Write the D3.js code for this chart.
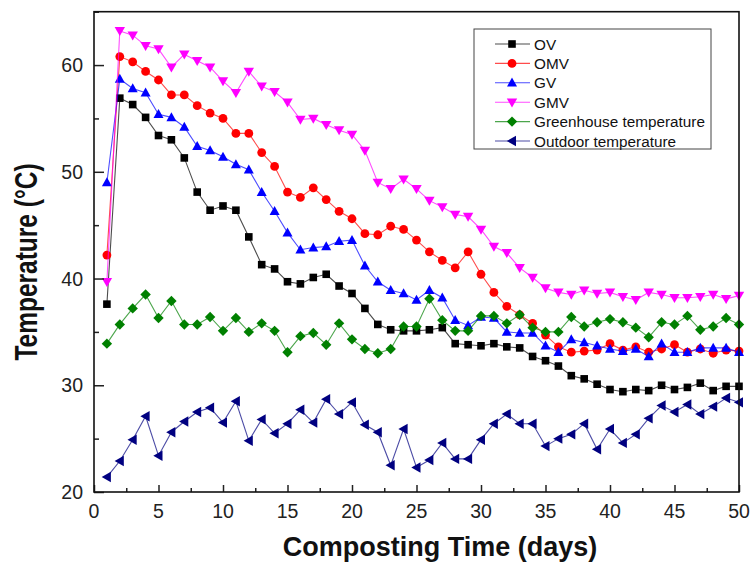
<!DOCTYPE html>
<html>
<head>
<meta charset="utf-8">
<script src="https://cdn.jsdelivr.net/npm/d3@7"></script>
<style>
  body { margin: 0; background: #fff; }
  svg { display: block; font-family: "Liberation Sans", Arial, sans-serif; }
</style>
</head>
<body>
<div id="chart"></div>
<script>
// Composting temperature over 50 days

const days = d3.range(1, 51);

const ov = [37.6, 56.9, 56.3, 55.1, 53.4, 53.0, 51.3, 48.1, 46.4, 46.8,
  46.4, 43.9, 41.3, 40.9, 39.7, 39.5, 40.1, 40.4, 39.3, 38.6,
  37.2, 35.7, 35.2, 35.1, 35.1, 35.2, 35.4, 33.9, 33.8, 33.7,
  33.9, 33.6, 33.5, 32.7, 32.3, 31.8, 30.9, 30.6, 30.1, 29.6,
  29.4, 29.6, 29.5, 30.0, 29.6, 29.8, 30.2, 29.5, 29.9, 29.9];

const omv = [42.2, 60.8, 60.3, 59.4, 58.6, 57.2, 57.2, 56.2, 55.5, 55.0,
  53.6, 53.6, 51.8, 50.5, 48.1, 47.6, 48.5, 47.4, 46.3, 45.6,
  44.2, 44.1, 44.9, 44.6, 43.6, 42.5, 41.7, 41.0, 42.5, 40.4,
  38.7, 37.4, 36.6, 35.8, 34.7, 33.6, 33.1, 33.2, 33.3, 33.9,
  33.3, 33.6, 33.1, 33.4, 33.8, 33.1, 33.4, 33.0, 33.3, 33.2];

const gv = [49.0, 58.7, 57.8, 57.4, 55.4, 55.1, 54.2, 52.4, 52.0, 51.4,
  50.7, 50.2, 48.1, 46.3, 44.3, 42.7, 42.9, 43.0, 43.5, 43.6,
  41.2, 39.7, 38.9, 38.6, 38.0, 38.9, 38.2, 36.1, 35.6, 36.4,
  36.3, 35.0, 34.9, 34.9, 33.7, 33.1, 34.3, 34.0, 33.7, 33.4,
  33.2, 33.4, 32.7, 33.9, 33.1, 33.1, 33.5, 33.5, 33.5, 33.1];

const gmv = [39.7, 63.2, 62.8, 61.8, 61.5, 59.8, 61.0, 60.4, 59.8, 58.5,
  57.4, 59.4, 58.0, 57.5, 56.5, 54.9, 55.0, 54.4, 53.9, 53.5,
  52.0, 49.0, 48.4, 49.3, 48.4, 47.3, 46.7, 46.0, 45.8, 44.6,
  43.0, 42.4, 41.0, 40.1, 39.1, 38.7, 38.5, 38.9, 38.6, 38.7,
  38.3, 38.0, 38.7, 38.5, 38.2, 38.2, 38.3, 38.5, 38.1, 38.4];

const greenhouse = [33.9, 35.7, 37.2, 38.5, 36.3, 37.9, 35.7, 35.7, 36.4, 35.1,
  36.3, 35.0, 35.8, 35.1, 33.1, 34.6, 34.9, 33.8, 35.8, 34.3,
  33.4, 33.0, 33.4, 35.5, 35.5, 38.1, 36.1, 35.1, 35.1, 36.5,
  36.5, 35.8, 36.6, 35.4, 35.0, 35.0, 36.4, 35.5, 35.9, 36.2,
  35.9, 35.4, 34.5, 35.9, 35.7, 36.5, 35.2, 35.5, 36.3, 35.7];

const outdoor = [21.4, 22.9, 24.9, 27.1, 23.4, 25.6, 26.6, 27.5, 27.9, 26.5,
  28.5, 24.8, 26.8, 25.5, 26.4, 27.7, 26.5, 28.7, 27.3, 28.4,
  26.3, 25.6, 22.5, 25.9, 22.3, 23.0, 24.6, 23.1, 23.1, 24.9,
  26.4, 27.3, 26.4, 26.4, 24.3, 25.0, 25.4, 26.4, 24.0, 25.9,
  24.6, 25.4, 26.9, 28.1, 27.5, 28.2, 27.3, 28.0, 28.8, 28.4];

const seriesNames = ["OV", "OMV", "GV", "GMV", "Greenhouse temperature", "Outdoor temperature"];
const seriesValues = [ov, omv, gv, gmv, greenhouse, outdoor];
const seriesColors = ["#000000", "#ff0000", "#0000ff", "#ff00ff", "#008000", "#000080"];
const seriesShapes = ["square", "circle", "up", "down", "diamond", "left"];

const xTicks = [0, 5, 10, 15, 20, 25, 30, 35, 40, 45, 50];
const yTicks = [20, 30, 40, 50, 60];

const width = 751, height = 563;
const plot = { left: 94, right: 739, top: 11.7, bottom: 492 };

const svg = d3.select("#chart").append("svg")
  .attr("width", width)
  .attr("height", height);

const x = d3.scaleLinear().domain([0, 50]).range([plot.left, plot.right]);
const y = d3.scaleLinear().domain([20, 65]).range([plot.bottom, plot.top]);

// marker path for each shape, centered at 0,0
function markerPath(shape) {
  const p = d3.path();
  if (shape === "square") {
    p.rect(-3.8, -3.8, 7.6, 7.6);
  } else if (shape === "circle") {
    p.arc(0, 0, 4.4, 0, 2 * Math.PI);
  } else if (shape === "up") {
    p.moveTo(0, -5.2); p.lineTo(5, 3.8); p.lineTo(-5, 3.8); p.closePath();
  } else if (shape === "down") {
    p.moveTo(0, 5.2); p.lineTo(5.2, -3.8); p.lineTo(-5.2, -3.8); p.closePath();
  } else if (shape === "diamond") {
    p.moveTo(0, -5.2); p.lineTo(5.2, 0); p.lineTo(0, 5.2); p.lineTo(-5.2, 0); p.closePath();
  } else if (shape === "left") {
    p.moveTo(-5.2, 0); p.lineTo(4, -5.2); p.lineTo(4, 5.2); p.closePath();
  }
  return p.toString();
}

// series
const line = d3.line().x((d, i) => x(days[i])).y(d => y(d));

seriesValues.forEach((vals, s) => {
  const g = svg.append("g");
  g.append("path")
    .attr("d", line(vals))
    .attr("fill", "none")
    .attr("stroke", seriesColors[s])
    .attr("stroke-opacity", 0.7)
    .attr("stroke-width", 1.1);
  g.selectAll("path.m")
    .data(vals)
    .join("path")
    .attr("class", "m")
    .attr("d", markerPath(seriesShapes[s]))
    .attr("transform", (d, i) => `translate(${x(days[i])},${y(d)})`)
    .attr("fill", seriesColors[s]);
});

// axes (ticks inward)
const xAxis = svg.append("g")
  .attr("transform", `translate(0,${plot.bottom})`)
  .call(d3.axisBottom(x).tickValues(d3.range(0, 50.1, 2.5)).tickSize(-4).tickFormat(""));
xAxis.selectAll(".tick line")
  .attr("y2", d => (d % 5 === 0 ? -7 : -4));

const yAxis = svg.append("g")
  .attr("transform", `translate(${plot.left},0)`)
  .call(d3.axisLeft(y).tickValues(d3.range(20, 65.1, 5)).tickSize(-5).tickFormat(""));
yAxis.selectAll(".tick line")
  .attr("x2", d => (d % 10 === 0 ? 10 : 5));

[xAxis, yAxis].forEach(a => {
  a.select(".domain").remove();
  a.selectAll(".tick line").attr("stroke", "#222").attr("stroke-width", 1.5);
});

// frame
svg.append("rect")
  .attr("x", plot.left).attr("y", plot.top)
  .attr("width", plot.right - plot.left).attr("height", plot.bottom - plot.top)
  .attr("fill", "none")
  .attr("stroke", "#111")
  .attr("stroke-width", 1.6);

// tick labels
svg.selectAll("text.xt")
  .data(xTicks)
  .join("text")
  .attr("class", "xt")
  .attr("x", d => x(d))
  .attr("y", plot.bottom + 26)
  .attr("text-anchor", "middle")
  .attr("font-size", 19.5)
  .attr("fill", "#222")
  .text(d => d);

svg.selectAll("text.yt")
  .data(yTicks)
  .join("text")
  .attr("class", "yt")
  .attr("x", plot.left - 11)
  .attr("y", d => y(d) + 7)
  .attr("text-anchor", "end")
  .attr("font-size", 19.5)
  .attr("fill", "#222")
  .text(d => d);

// axis titles
svg.append("text")
  .attr("x", 440)
  .attr("y", 556)
  .attr("text-anchor", "middle")
  .attr("font-size", 27)
  .attr("font-weight", "bold")
  .attr("fill", "#111")
  .text("Composting Time (days)");

svg.append("text")
  .attr("transform", "translate(37,262) rotate(-90) scale(1,1.3)")
  .attr("text-anchor", "middle")
  .attr("font-size", 24.5)
  .attr("font-weight", "bold")
  .attr("fill", "#111")
  .text("Temperature (°C)");

// legend
const legend = svg.append("g");
legend.append("rect")
  .attr("x", 474).attr("y", 29)
  .attr("width", 237).attr("height", 120)
  .attr("fill", "#fff")
  .attr("stroke", "#444")
  .attr("stroke-width", 1);

seriesNames.forEach((name, s) => {
  const ly = 44 + s * 19.4;
  legend.append("line")
    .attr("x1", 495).attr("x2", 530)
    .attr("y1", ly).attr("y2", ly)
    .attr("stroke", seriesColors[s])
    .attr("stroke-opacity", 0.7)
    .attr("stroke-width", 1.1);
  legend.append("path")
    .attr("d", markerPath(seriesShapes[s]))
    .attr("transform", `translate(512,${ly})`)
    .attr("fill", seriesColors[s]);
  legend.append("text")
    .attr("x", 534)
    .attr("y", ly + 5.5)
    .attr("font-size", 15.3)
    .attr("fill", "#111")
    .text(name);
});
</script>
</body>
</html>
